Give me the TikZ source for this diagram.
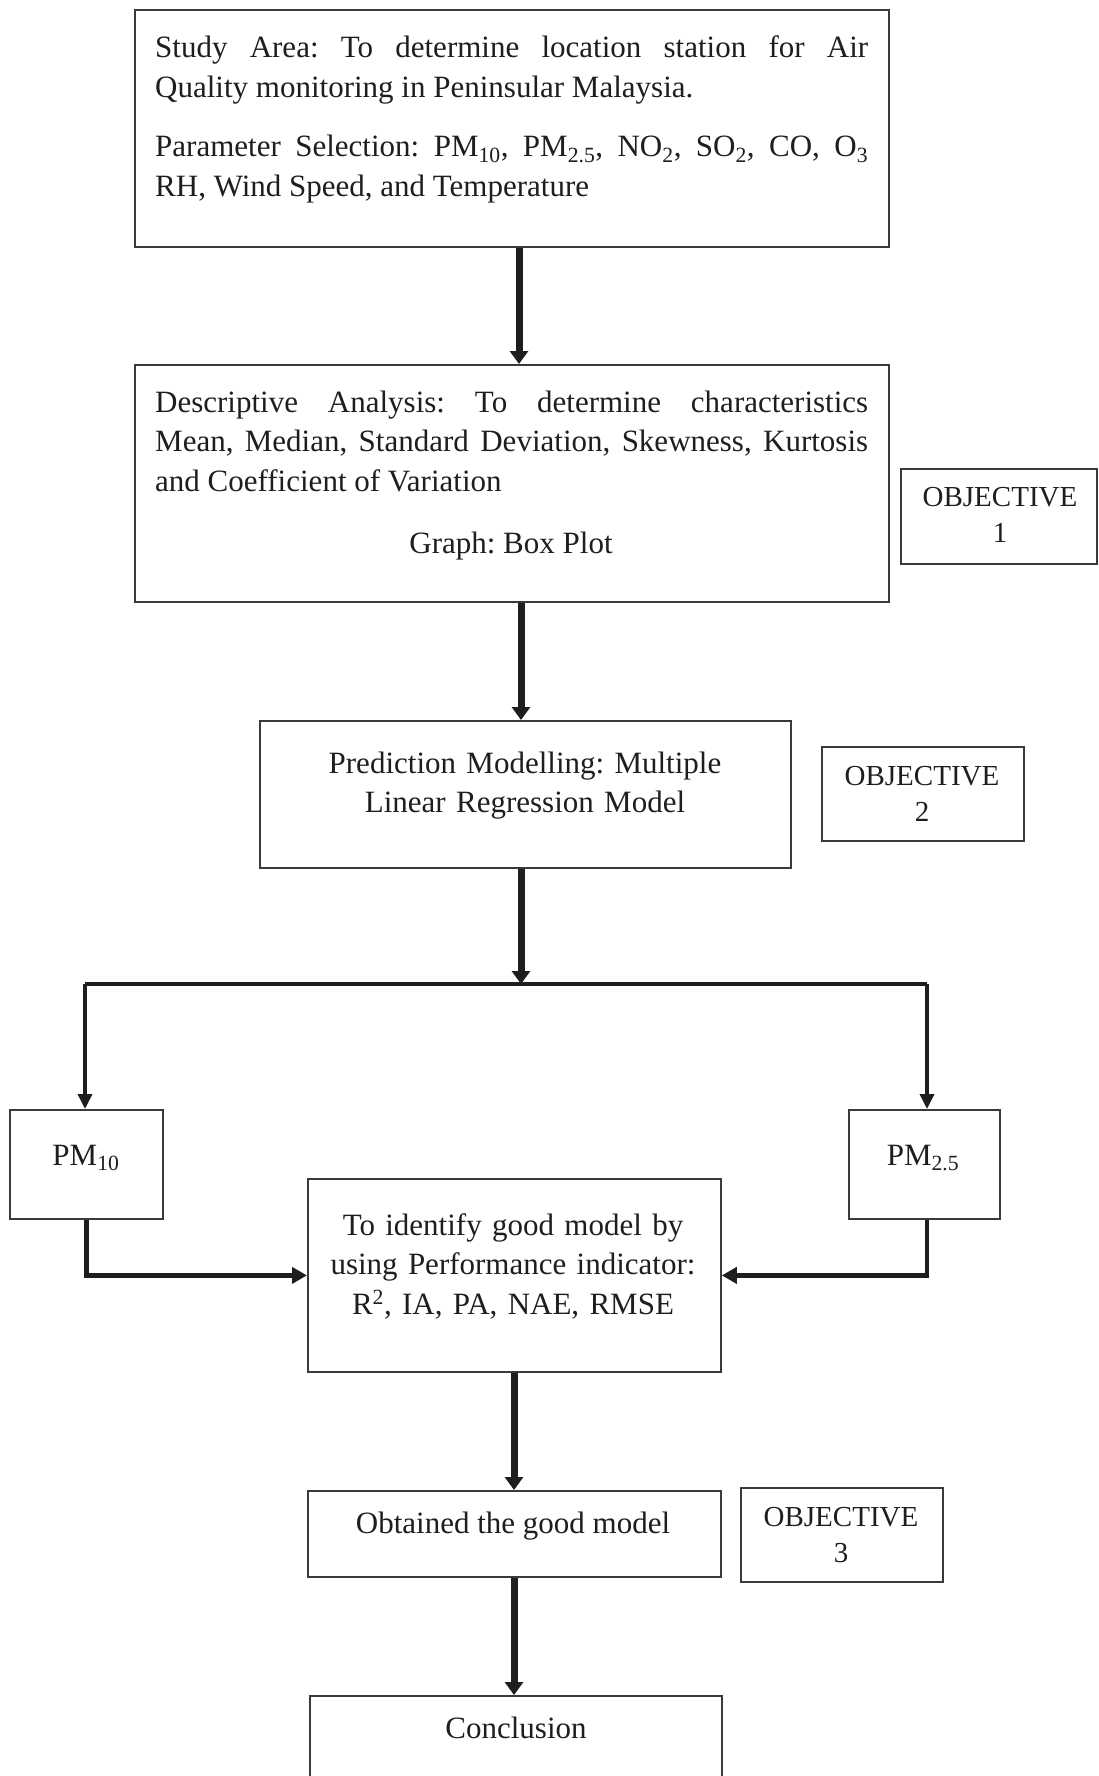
\documentclass[tikz,border=0pt]{standalone}
\usepackage{fontspec}
\setmainfont{Liberation Serif}
\usetikzlibrary{arrows.meta}
\definecolor{ink}{HTML}{1E1E1E}
\definecolor{edge}{HTML}{3A3A3A}
\frenchspacing
\begin{document}
\begin{tikzpicture}[x=1pt,y=-1pt,
  box/.style={draw=edge, line width=1.8pt, inner sep=0pt, anchor=north west},
  txt/.style={inner sep=0pt, text=ink, font=\fontsize{31}{39.5}\selectfont},
  objtxt/.style={inner sep=0pt, text=ink, font=\fontsize{29}{36}\selectfont, text width=200pt, align=center, anchor=base},
  bigarrow/.style={draw=ink, line width=7pt, -{Triangle[width=18pt,length=13pt]}},
  thinline/.style={draw=ink, line width=3.5pt},
  thinarrow/.style={draw=ink, line width=3.5pt, -{Triangle[width=14pt,length=15pt]}},
  sidearrow/.style={draw=ink, line width=4.5pt, -{Triangle[width=16pt,length=15pt]}}
]
\useasboundingbox (0,0) rectangle (1098,1776);
\fill[white] (0,0) rectangle (1098,1776);

% boxes
\node[box, minimum width=754pt, minimum height=237pt] (b1) at (134,9) {};
\node[box, minimum width=754pt, minimum height=237pt] (b2) at (134,364) {};
\node[box, minimum width=196pt, minimum height=95pt] (o1) at (900,468) {};
\node[box, minimum width=531pt, minimum height=147pt] (b3) at (259,720) {};
\node[box, minimum width=202pt, minimum height=94pt] (o2) at (821,746) {};
\node[box, minimum width=153pt, minimum height=109pt] (pm10) at (9,1109) {};
\node[box, minimum width=151pt, minimum height=109pt] (pm25) at (848,1109) {};
\node[box, minimum width=413pt, minimum height=193pt] (b4) at (307,1178) {};
\node[box, minimum width=413pt, minimum height=86pt] (b5) at (307,1490) {};
\node[box, minimum width=202pt, minimum height=94pt] (o3) at (740,1487) {};
\node[box, minimum width=412pt, minimum height=130pt] (b6) at (309,1695) {};

% texts
\node[txt, anchor=base west, text width=713pt, align=justify] (t1) at (155,58)
 {Study Area: To determine location station for Air\linebreak Quality monitoring in Peninsular Malaysia.\par\vspace{20pt}
  Parameter Selection: PM\textsubscript{10}, PM\textsubscript{2.5}, NO\textsubscript{2}, SO\textsubscript{2}, CO, O\textsubscript{3}\linebreak RH, Wind Speed, and Temperature};
\node[txt, anchor=base west, text width=713pt, align=justify] (t2) at (155,412)
 {Descriptive Analysis: To determine characteristics\linebreak Mean, Median, Standard Deviation, Skewness, Kurtosis\linebreak and Coefficient of Variation};
\node[txt, anchor=base] (t2b) at (511,553) {Graph: Box Plot};
\node[txt, anchor=base, text width=520pt, align=center] (t3) at (525,773)
 {Prediction Modelling: Multiple\\Linear Regression Model};
\node[objtxt] (to1) at (1000,506) {OBJECTIVE\\1};
\node[objtxt] (to2) at (922,785) {OBJECTIVE\\2};
\node[objtxt] (to3) at (841,1526) {OBJECTIVE\\3};
\node[txt, anchor=base] (tpm10) at (86,1165) {PM\textsubscript{10}};
\node[txt, anchor=base] (tpm25) at (923,1165) {PM\textsubscript{2.5}};
\node[txt, anchor=base, text width=410pt, align=center] (t4) at (513,1235)
 {To identify good model by\\using Performance indicator:\\R\textsuperscript{2}, IA, PA, NAE, RMSE};
\node[txt, anchor=base] (t5) at (513,1533) {Obtained the good model};
\node[txt, anchor=base] (t6) at (516,1738) {Conclusion};

% connector guides
\coordinate (s1) at (519,0);
\coordinate (s2) at (521,0);
\coordinate (s3) at (514,0);
\coordinate (j) at (521,984);
\coordinate (jl) at (85,984);
\coordinate (jr) at (927,984);

% connectors
\draw[bigarrow] (b1.south -| s1) -- (b2.north -| s1);
\draw[bigarrow] (b2.south -| s2) -- (b3.north -| s2);
\draw[thinline] (jl) -- (jr);
\draw[bigarrow] (b3.south -| s2) -- (j);
\draw[thinarrow] (jl) -- (jl |- pm10.north);
\draw[thinarrow] (jr) -- (jr |- pm25.north);
\draw[sidearrow] (pm10.south) |- (b4.west);
\draw[sidearrow] (pm25.south -| jr) |- (b4.east);
\draw[bigarrow] (b4.south -| s3) -- (b5.north -| s3);
\draw[bigarrow] (b5.south -| s3) -- (b6.north -| s3);
\end{tikzpicture}
\end{document}
